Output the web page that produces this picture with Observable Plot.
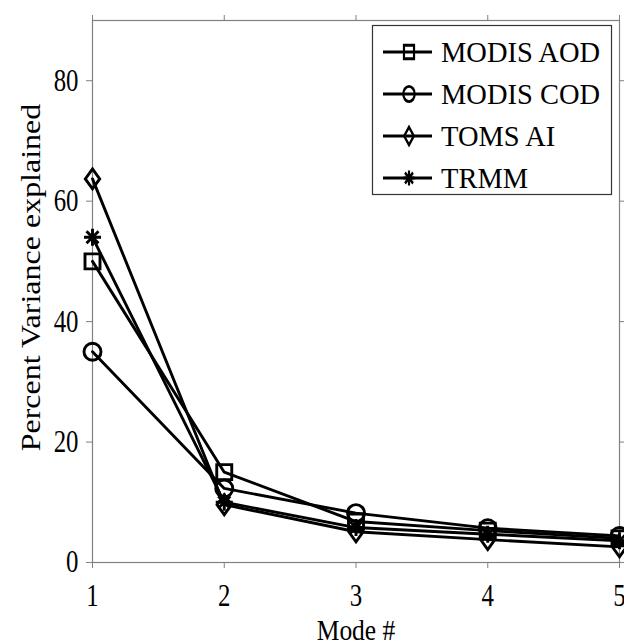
<!DOCTYPE html>
<html>
<head>
<meta charset="utf-8">
<script src="https://cdn.jsdelivr.net/npm/d3@7"></script>
<script src="https://cdn.jsdelivr.net/npm/@observablehq/plot@0.6"></script>
<style>
  body { margin: 0; background: #fff; }
  #chart { position: relative; width: 624px; height: 644px; }
  #chart svg { position: absolute; left: 0; top: 0; }
</style>
</head>
<body>
<div id="chart"></div>
<script>
// EOF modes 1–5: percent of variance explained by each mode, per dataset
const modes = [1, 2, 3, 4, 5];
const seriesNames = ["MODIS AOD", "MODIS COD", "TOMS AI", "TRMM"];
const modisAod = [50.0, 15.0, 6.8, 5.3, 4.0];
const modisCod = [35.0, 12.3, 8.2, 5.7, 4.4];
const tomsAi   = [63.7, 9.6, 5.1, 3.8, 2.6];
const trmm     = [54.0, 10.0, 5.8, 4.7, 3.6];
const yTicks = [0, 20, 40, 60, 80];
const xLabel = "Mode #";
const yLabel = "Percent Variance explained";

const serif = "Liberation Serif";

// Marker shapes (hollow), sized from the dot radius r (size = πr²)
const rad = (size) => Math.sqrt(size / Math.PI);
const squareSym = { draw(c, size) { const s = rad(size); c.rect(-s, -s, 2 * s, 2 * s); } };
const diamondSym = { draw(c, size) {
  const s = rad(size);
  c.moveTo(0, -s); c.lineTo(s * 0.72, 0); c.lineTo(0, s); c.lineTo(-s * 0.72, 0); c.closePath();
} };
const asteriskSym = { draw(c, size) {
  const s = rad(size), d = s * Math.SQRT1_2;
  c.moveTo(0, -s); c.lineTo(0, s);
  c.moveTo(-s, 0); c.lineTo(s, 0);
  c.moveTo(-d, -d); c.lineTo(d, d);
  c.moveTo(-d, d); c.lineTo(d, -d);
} };

const series = [
  { name: seriesNames[0], values: modisAod, symbol: squareSym, r: 7.5 },
  { name: seriesNames[1], values: modisCod, symbol: "circle", r: 8.5 },
  { name: seriesNames[2], values: tomsAi, symbol: diamondSym, r: 10 },
  { name: seriesNames[3], values: trmm, symbol: asteriskSym, r: 8.5 }
];
const rows = series.map(s => modes.map((m, i) => ({ mode: m, value: s.values[i], name: s.name })));

const axisGray = "#808080";
const seriesMarks = series.flatMap((s, k) => [
  Plot.line(rows[k], { x: "mode", y: "value", stroke: "#000", strokeWidth: 2.9 }),
  Plot.dot(rows[k], { x: "mode", y: "value", symbol: s.symbol, r: s.r, stroke: "#000", fill: "none", strokeWidth: 2.9 })
]);

const chart = Plot.plot({
  width: 624,
  height: 644,
  marginLeft: 92,
  marginRight: 5,
  marginTop: 20,
  marginBottom: 82,
  style: { fontSize: "31px", color: "#000", background: "#fff", overflow: "visible" },
  x: { domain: [1, 5] },
  y: { domain: [0, 90] },
  marks: [
    Plot.frame({ stroke: axisGray, strokeWidth: 1.2 }),
    Plot.axisX(modes, { anchor: "bottom", tickSize: 6, tickPadding: 15, tickFormat: "d", stroke: axisGray, fill: "#000", fontSize: 31, label: null }),
    Plot.axisX(modes, { anchor: "top", tickSize: 6, tickFormat: () => "", stroke: axisGray, label: null }),
    Plot.axisY(yTicks, { anchor: "left", tickSize: 6, tickPadding: 8, tickFormat: "d", stroke: axisGray, fill: "#000", fontSize: 31, label: null }),
    Plot.axisY(yTicks, { anchor: "right", tickSize: 6, tickFormat: () => "", stroke: axisGray, label: null }),
    ...seriesMarks,
    Plot.text([xLabel], { frameAnchor: "bottom", textAnchor: "middle", lineAnchor: "middle", dy: 68, text: d => d, fontSize: 30, fill: "#000" }),
    Plot.text([yLabel], { frameAnchor: "left", textAnchor: "middle", lineAnchor: "middle", dx: -61, dy: -14, rotate: -90, text: d => d, fontSize: 32, fill: "#000" })
  ]
});
chart.setAttribute("font-family", serif);

// The serif face is set narrow: squeeze each label about its own anchor
chart.querySelectorAll("text").forEach(t => {
  const isTick = !!t.closest("[aria-label$='tick label']");
  const k = isTick ? 0.8 : 0.85;
  let tr = t.getAttribute("transform") || "";
  const x = t.getAttribute("x");
  if (x != null && x !== "" && !isNaN(+x)) { tr += ` translate(${+x},0)`; t.removeAttribute("x"); }
  tr += tr.includes("rotate") ? ` scale(1,${k})` : ` scale(${k},1)`;
  t.setAttribute("transform", tr.trim());
  t.setAttribute("font-family", serif);
});

document.getElementById("chart").appendChild(chart);

// Legend box in the upper right, line-with-marker samples
const legend = d3.select("#chart").append("svg")
  .attr("width", 624).attr("height", 644)
  .attr("font-family", serif)
  .style("pointer-events", "none");
const lx = 372, ly = 25, lw = 239, lh = 169, rowGap = 42;
legend.append("rect")
  .attr("x", lx + 0.5).attr("y", ly + 0.5).attr("width", lw).attr("height", lh)
  .attr("fill", "#fff").attr("stroke", "#333").attr("stroke-width", 1.2);
series.forEach((s, i) => {
  const cy = ly + 27 + i * rowGap;
  const g = legend.append("g");
  g.append("line").attr("x1", lx + 11).attr("x2", lx + 60).attr("y1", cy).attr("y2", cy)
    .attr("stroke", "#000").attr("stroke-width", 2.9);
  const sym = typeof s.symbol === "string" ? d3.symbolCircle : s.symbol;
  g.append("path")
    .attr("d", d3.symbol(sym, Math.PI * s.r * s.r * 0.8)())
    .attr("transform", `translate(${lx + 37},${cy}) scale(0.75,1)`)
    .attr("fill", "none").attr("stroke", "#000").attr("stroke-width", 2.9);
  g.append("text")
    .attr("transform", `translate(${lx + 69},${cy}) scale(0.95,1)`)
    .attr("dy", "0.34em")
    .attr("font-family", serif)
    .attr("font-size", 30).attr("fill", "#000")
    .text(s.name);
});
</script>
</body>
</html>
